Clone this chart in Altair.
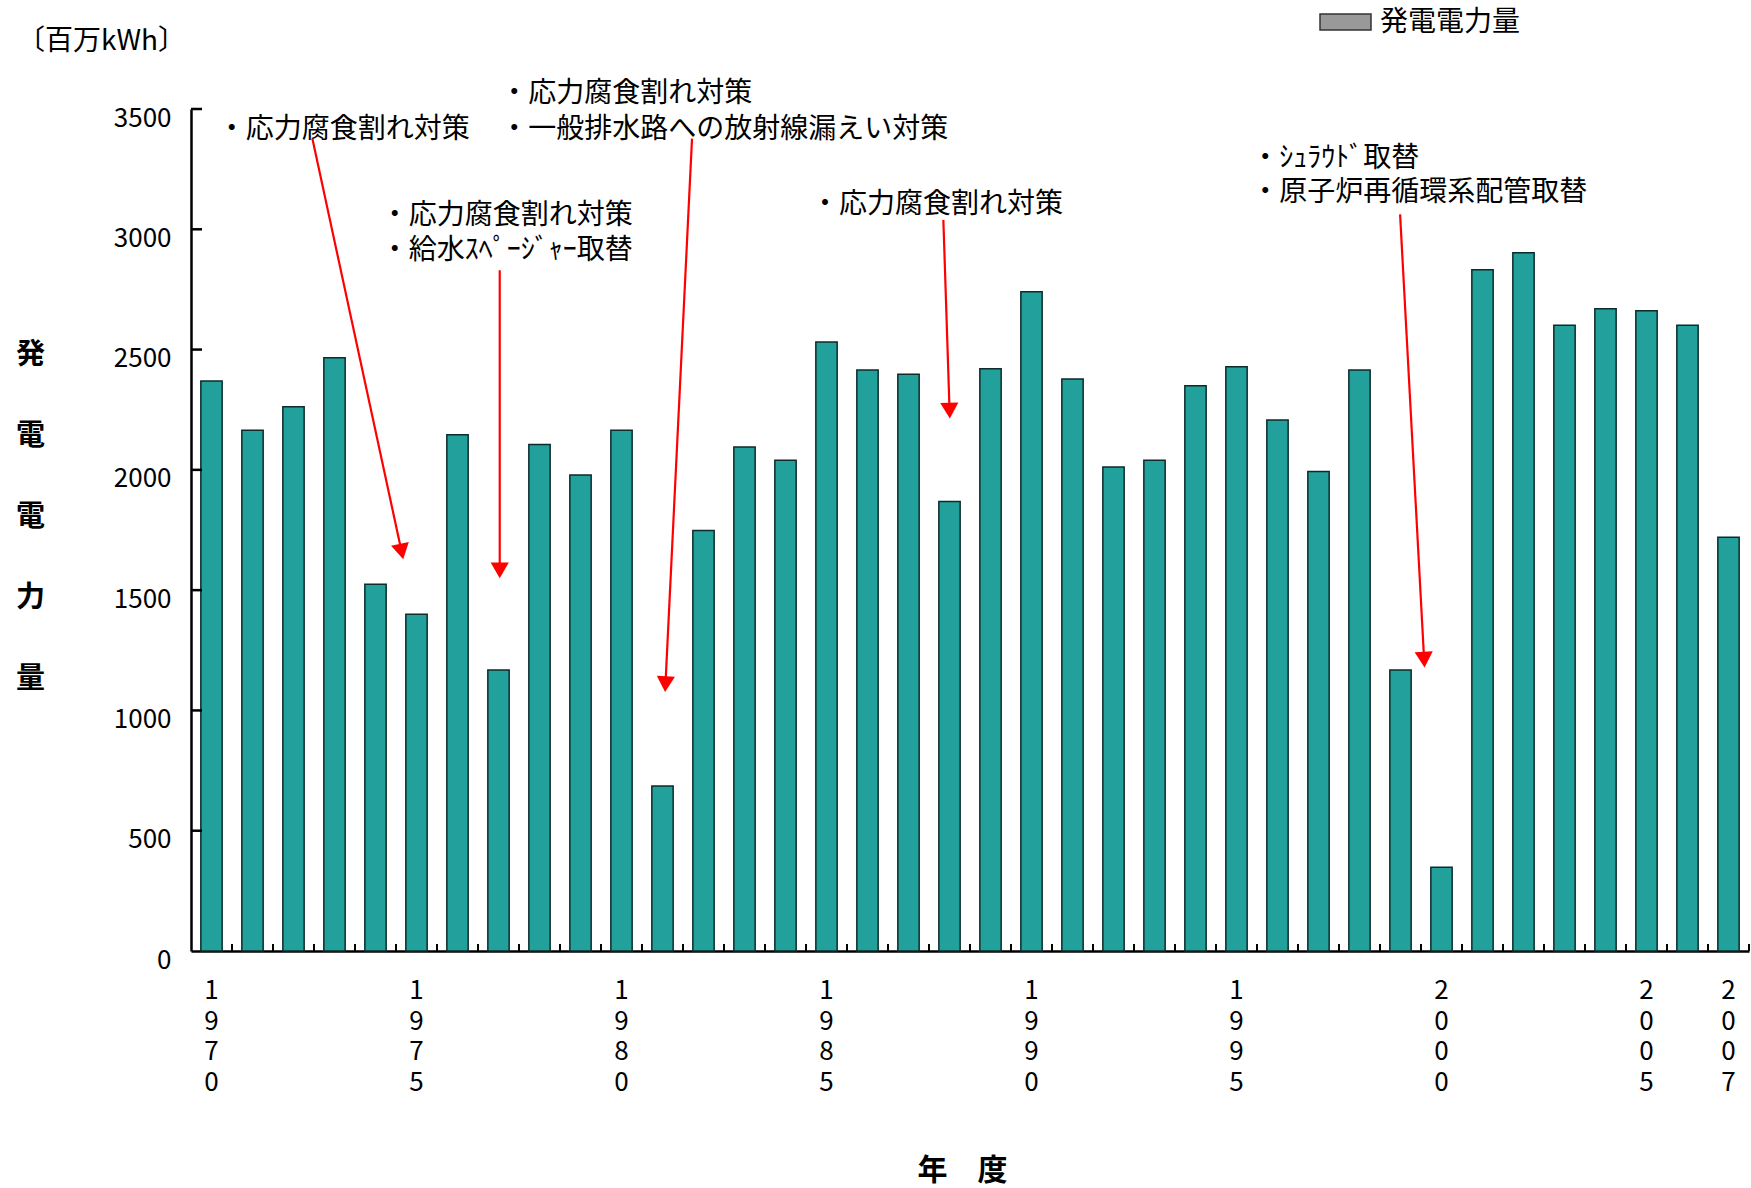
import math
import altair as alt
import pandas as pd

# ---------------- data ----------------
years = list(range(1970, 2008))
output = [2369, 2165, 2262, 2466, 1525, 1400, 2146, 1168, 2105, 1979,
          2165, 686, 1748, 2095, 2040, 2531, 2415, 2397, 1868, 2420,
          2740, 2378, 2012, 2040, 2350, 2429, 2207, 1993, 2415, 1168,
          348, 2832, 2902, 2601, 2670, 2661, 2601, 1720]
label_years = [1970, 1975, 1980, 1985, 1990, 1995, 2000, 2005, 2007]
y_ticks = [0, 500, 1000, 1500, 2000, 2500, 3000, 3500]

note_text = ["・応力腐食割れ対策",
             "・応力腐食割れ対策", "・給水ｽﾍﾟｰｼﾞｬｰ取替",
             "・応力腐食割れ対策", "・一般排水路への放射線漏えい対策",
             "・応力腐食割れ対策",
             "・ｼｭﾗｳﾄﾞ取替", "・原子炉再循環系配管取替"]
note_x = [1970.15, 1974.13, 1974.13, 1977.04, 1977.04, 1984.62, 1995.36, 1995.36]
note_y = [3414, 3057, 2909, 3563, 3414, 3099, 3294, 3150]

arrow_x0 = [1972.46, 1977.03, 1981.72, 1987.85, 1998.99]
arrow_y0 = [3377, 2830, 3377, 3039, 3062]
arrow_x1 = [1974.69, 1977.03, 1981.06, 1988.01, 1999.59]
arrow_y1 = [1618, 1539, 1066, 2203, 1168]

legend_label = "発電電力量"
unit_label = "〔百万kWh〕"
x_title = "年　度"
y_title = ["発", "電", "電", "力", "量"]

# ---------------- layout ----------------
W, H = 1558, 842
XMIN, XMAX = 1969.5, 2007.5
YMAX = 3500
FONT = "Noto Sans CJK JP"
px_year = W / (XMAX - XMIN)
px_val = H / YMAX

xscale = alt.Scale(domain=[XMIN, XMAX], nice=False, zero=False)
yscale = alt.Scale(domain=[0, YMAX], nice=False, zero=True)

bars_df = pd.DataFrame({"year": years, "value": output})

bars = alt.Chart(bars_df).transform_calculate(
    x0="datum.year - 0.26", x1="datum.year + 0.26"
).mark_bar(fill="#22A09C", stroke="#0d2b2a", strokeWidth=1.5).encode(
    x=alt.X("x0:Q", scale=xscale, axis=alt.Axis(
        domain=True, domainColor="black", domainWidth=2.5, ticks=False,
        labels=False, grid=False, title=x_title, titleFont=FONT,
        titleFontSize=30, titleFontWeight="bold", titleColor="black",
        titleX=771, titleY=219, titleAlign="center", titleBaseline="middle")),
    x2="x1:Q",
    y=alt.Y("value:Q", scale=yscale, axis=alt.Axis(
        values=y_ticks, format="d", ticks=False, grid=False, domainColor="black",
        domainWidth=2.5, labelFont=FONT, labelFontSize=26, labelColor="black",
        labelPadding=20, labelOffset=9, title=y_title, titleAngle=0,
        titleFont=FONT, titleFontSize=29, titleFontWeight="bold",
        titleColor="black", titleX=-161, titleY=231, titleAlign="center",
        titleBaseline="top", titleLineHeight=81)),
    y2=alt.datum(0),
)

# inward ticks on the y axis
ytick_df = pd.DataFrame({"v": [v for v in y_ticks if v > 0]})
yticks = alt.Chart(ytick_df).mark_rule(color="black", strokeWidth=2.5).encode(
    y=alt.Y("v:Q", scale=yscale),
    x=alt.value(0), x2=alt.value(11),
)

# inward ticks on the x axis at category boundaries
xtick_df = pd.DataFrame({"b": [y + 0.5 for y in years]})
xticks = alt.Chart(xtick_df).mark_rule(color="black", strokeWidth=2).encode(
    x=alt.X("b:Q", scale=xscale),
    y=alt.value(H), y2=alt.value(H - 7),
)

# x labels (vertical digits)
xl_df = pd.DataFrame({"year": label_years,
                      "txt": ["\n".join(str(y)) for y in label_years]})
xlabels = alt.Chart(xl_df).mark_text(
    font=FONT, fontSize=26, lineBreak="\n", lineHeight=30.5,
    align="center", baseline="top", color="black"
).encode(
    x=alt.X("year:Q", scale=xscale),
    y=alt.value(H + 27),
    text="txt:N",
)

# annotation texts
notes_df = pd.DataFrame({"x": note_x, "y": note_y, "t": note_text})
notes = alt.Chart(notes_df).mark_text(
    font=FONT, fontSize=28, align="left", baseline="middle", color="black"
).encode(
    x=alt.X("x:Q", scale=xscale),
    y=alt.Y("y:Q", scale=yscale),
    text="t:N",
)

# arrows
SIZE = 330
tip_off = 2 * math.tan(math.radians(30)) * math.sqrt(SIZE) / 2
rows = []
for x0, y0, x1, y1 in zip(arrow_x0, arrow_y0, arrow_x1, arrow_y1):
    dx = (x1 - x0) * px_year
    dy = (y0 - y1) * px_val
    L = math.hypot(dx, dy)
    ang = math.degrees(math.atan2(-dx, dy)) % 360
    cx = x1 - dx / L * tip_off / px_year
    cy = y1 + dy / L * tip_off / px_val
    rows.append({"x0": x0, "y0": y0, "cx": cx, "cy": cy, "ang": ang})
arr_df = pd.DataFrame(rows)

arrow_lines = alt.Chart(arr_df).mark_rule(color="#FF0000", strokeWidth=2.2).encode(
    x=alt.X("x0:Q", scale=xscale),
    y=alt.Y("y0:Q", scale=yscale),
    x2="cx:Q", y2="cy:Q",
)
arrow_heads = alt.Chart(arr_df).mark_point(
    shape="triangle-down", filled=True, color="#FF0000", size=SIZE, opacity=1
).encode(
    x=alt.X("cx:Q", scale=xscale),
    y=alt.Y("cy:Q", scale=yscale),
    angle=alt.Angle("ang:Q", scale=None),
)

# legend and unit label
lab_df = pd.DataFrame({"t": [legend_label]})
leg_rect = alt.Chart(lab_df).mark_rect(
    fill="#999999", stroke="#333333", strokeWidth=1.5
).encode(x=alt.value(1129), x2=alt.value(1180), y=alt.value(-95), y2=alt.value(-79))
leg_text = alt.Chart(lab_df).mark_text(
    font=FONT, fontSize=28, align="left", baseline="middle", color="black"
).encode(x=alt.value(1189), y=alt.value(-86), text="t:N")

unit_df = pd.DataFrame({"t": [unit_label]})
unit = alt.Chart(unit_df).mark_text(
    font=FONT, fontSize=28, align="left", baseline="middle", color="black"
).encode(x=alt.value(-174), y=alt.value(-67), text="t:N")

chart = alt.layer(
    bars, yticks, xticks, xlabels, arrow_lines, arrow_heads, notes,
    leg_rect, leg_text, unit
).properties(
    width=W, height=H,
    padding={"left": 191, "top": 109, "right": 2, "bottom": 237},
    autosize=alt.AutoSizeParams(type="none"),
    background="white",
).configure_view(stroke=None)

chart.save("out.html", embed_options={"renderer": "svg", "actions": False})
